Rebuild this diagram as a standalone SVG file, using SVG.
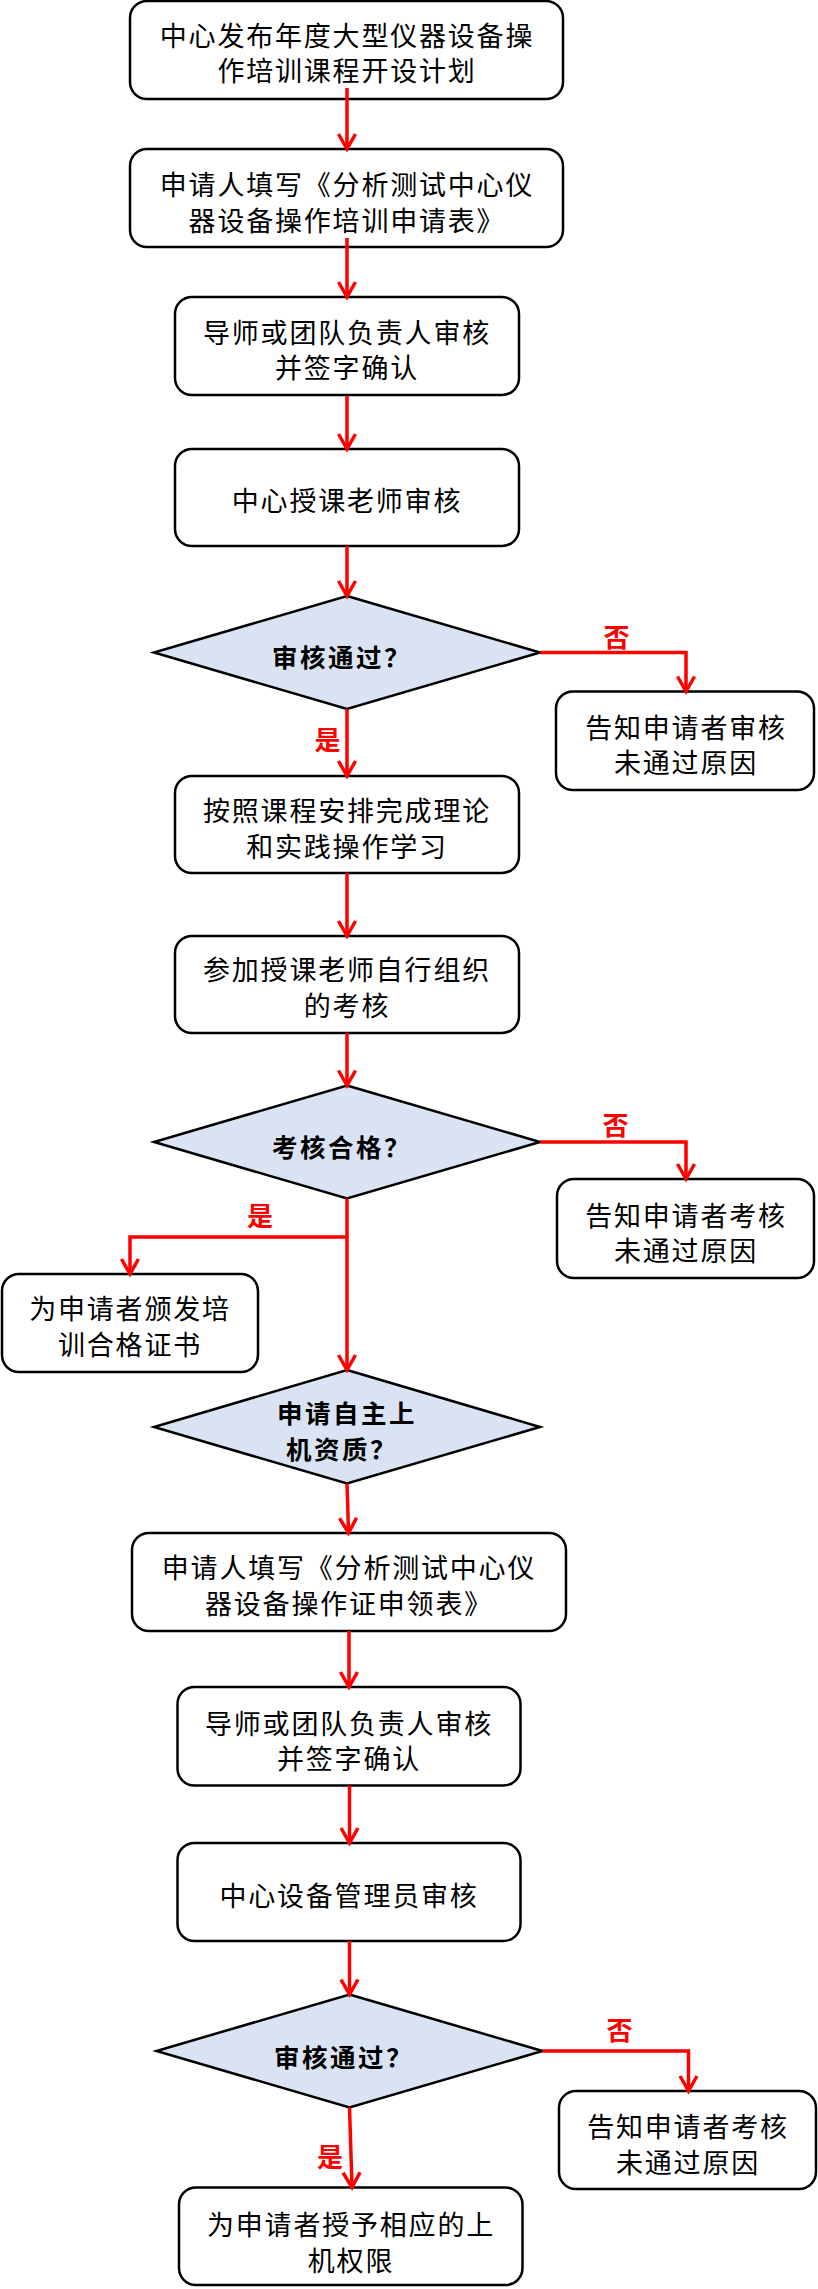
<svg xmlns="http://www.w3.org/2000/svg" width="818" height="2289" viewBox="0 0 818 2289">
<defs>
<style>
.box{fill:#fff;stroke:#000;stroke-width:2.5}
.dia{fill:#DAE3F3;stroke:#000;stroke-width:2.5}
.t{font-family:"Noto Sans CJK SC","Noto Sans",sans-serif;font-size:27px;letter-spacing:1.8px;fill:#000;text-anchor:middle;dominant-baseline:central}
.td{font-family:"Noto Sans CJK SC","Noto Sans",sans-serif;font-size:25.5px;font-weight:bold;letter-spacing:2.5px;fill:#000;text-anchor:middle;dominant-baseline:central}
.lb{font-family:"Noto Sans CJK SC","Noto Sans",sans-serif;font-size:26px;font-weight:bold;fill:#FF0000;text-anchor:middle;dominant-baseline:central}
.c{fill:none;stroke:#FF0000;stroke-width:3.5;marker-end:url(#ah)}
</style>
<marker id="ah" markerUnits="userSpaceOnUse" viewBox="-2 -2 21 21" refX="14" refY="8.5" markerWidth="21" markerHeight="21" orient="auto" overflow="visible">
<path d="M0,0 L15,8.5 L0,17" fill="none" stroke="#FF0000" stroke-width="3.5"/>
</marker>
</defs>

<g id="n1"><rect class="box" x="130" y="1" width="433" height="98" rx="17"/>
<text class="t" x="347" y="34">中心发布年度大型仪器设备操</text>
<text class="t" x="347" y="69.5">作培训课程开设计划</text></g>

<g id="n2"><rect class="box" x="130" y="149" width="433" height="98" rx="17"/>
<text class="t" x="347" y="183.5">申请人填写《分析测试中心仪</text>
<text class="t" x="347" y="219">器设备操作培训申请表》</text></g>

<g id="n3"><rect class="box" x="175" y="297" width="344" height="98" rx="17"/>
<text class="t" x="347" y="331">导师或团队负责人审核</text>
<text class="t" x="347" y="366.5">并签字确认</text></g>

<g id="n4"><rect class="box" x="175" y="449" width="344" height="97" rx="17"/>
<text class="t" x="347" y="499">中心授课老师审核</text></g>

<g id="d1"><polygon class="dia" points="347,596 540,652.5 347,709 154,652.5"/>
<text class="td" x="342" y="655">审核通过？</text></g>

<g id="n5"><rect class="box" x="556" y="691.5" width="258" height="98.5" rx="17"/>
<text class="t" x="686" y="726">告知申请者审核</text>
<text class="t" x="686" y="761.5">未通过原因</text></g>

<g id="n6"><rect class="box" x="175" y="776" width="344" height="97" rx="17"/>
<text class="t" x="347" y="809.5">按照课程安排完成理论</text>
<text class="t" x="347" y="845">和实践操作学习</text></g>

<g id="n7"><rect class="box" x="175" y="936" width="344" height="97" rx="17"/>
<text class="t" x="347" y="968.5">参加授课老师自行组织</text>
<text class="t" x="347" y="1004">的考核</text></g>

<g id="d2"><polygon class="dia" points="347,1085.5 540,1142 347,1198.5 154,1142"/>
<text class="td" x="342" y="1145">考核合格？</text></g>

<g id="n8"><rect class="box" x="557" y="1179" width="257" height="99" rx="17"/>
<text class="t" x="686" y="1214">告知申请者考核</text>
<text class="t" x="686" y="1249.5">未通过原因</text></g>

<g id="n9"><rect class="box" x="2" y="1274" width="256" height="98" rx="17"/>
<text class="t" x="130" y="1307.5">为申请者颁发培</text>
<text class="t" x="130" y="1343">训合格证书</text></g>

<g id="d3"><polygon class="dia" points="347,1370 540,1427 347,1483.5 154,1427"/>
<text class="td" x="347" y="1411.5">申请自主上</text>
<text class="td" x="342" y="1447">机资质？</text></g>

<g id="n10"><rect class="box" x="132" y="1533" width="434" height="98" rx="17"/>
<text class="t" x="349" y="1566.5">申请人填写《分析测试中心仪</text>
<text class="t" x="349" y="1602">器设备操作证申领表》</text></g>

<g id="n11"><rect class="box" x="177.5" y="1687" width="343" height="98.5" rx="17"/>
<text class="t" x="349" y="1722">导师或团队负责人审核</text>
<text class="t" x="349" y="1757.5">并签字确认</text></g>

<g id="n12"><rect class="box" x="177.5" y="1843" width="343" height="98" rx="17"/>
<text class="t" x="349" y="1894">中心设备管理员审核</text></g>

<g id="d4"><polygon class="dia" points="349.5,1994.5 542.5,2051 349.5,2107.5 156.5,2051"/>
<text class="td" x="344" y="2055">审核通过？</text></g>

<g id="n13"><rect class="box" x="559" y="2091" width="257" height="98" rx="17"/>
<text class="t" x="688" y="2125.5">告知申请者考核</text>
<text class="t" x="688" y="2161">未通过原因</text></g>

<g id="n14"><rect class="box" x="179" y="2187.5" width="343.5" height="97.5" rx="17"/>
<text class="t" x="351" y="2223.5">为申请者授予相应的上</text>
<text class="t" x="351" y="2259">机权限</text></g>

<g id="connectors">
<path class="c" d="M347,88 V148"/>
<path class="c" d="M347,238 V296"/>
<path class="c" d="M347,396 V448"/>
<path class="c" d="M347,546 V595"/>
<path class="c" d="M540,652.5 H686 V690.5"/>
<path class="c" d="M347,709 V775"/>
<path class="c" d="M347,873 V935"/>
<path class="c" d="M347,1033 V1084.5"/>
<path class="c" d="M540,1142 H686 V1178"/>
<path class="c" d="M347,1198.5 V1369"/>
<path class="c" d="M347,1237 H130 V1273"/>
<path class="c" d="M347,1483.5 L348.5,1532"/>
<path class="c" d="M349,1631 V1686"/>
<path class="c" d="M349.5,1785.5 V1842"/>
<path class="c" d="M349.5,1941 V1993.5"/>
<path class="c" d="M542.5,2051 H688.5 V2090"/>
<path class="c" d="M349.5,2107.5 L352,2186.5"/>
<text class="lb" x="616.5" y="635">否</text>
<text class="lb" x="327.5" y="738.5">是</text>
<text class="lb" x="615.5" y="1123.5">否</text>
<text class="lb" x="260" y="1214">是</text>
<text class="lb" x="619.5" y="2028.5">否</text>
<text class="lb" x="330" y="2155">是</text>
</g>
</svg>
